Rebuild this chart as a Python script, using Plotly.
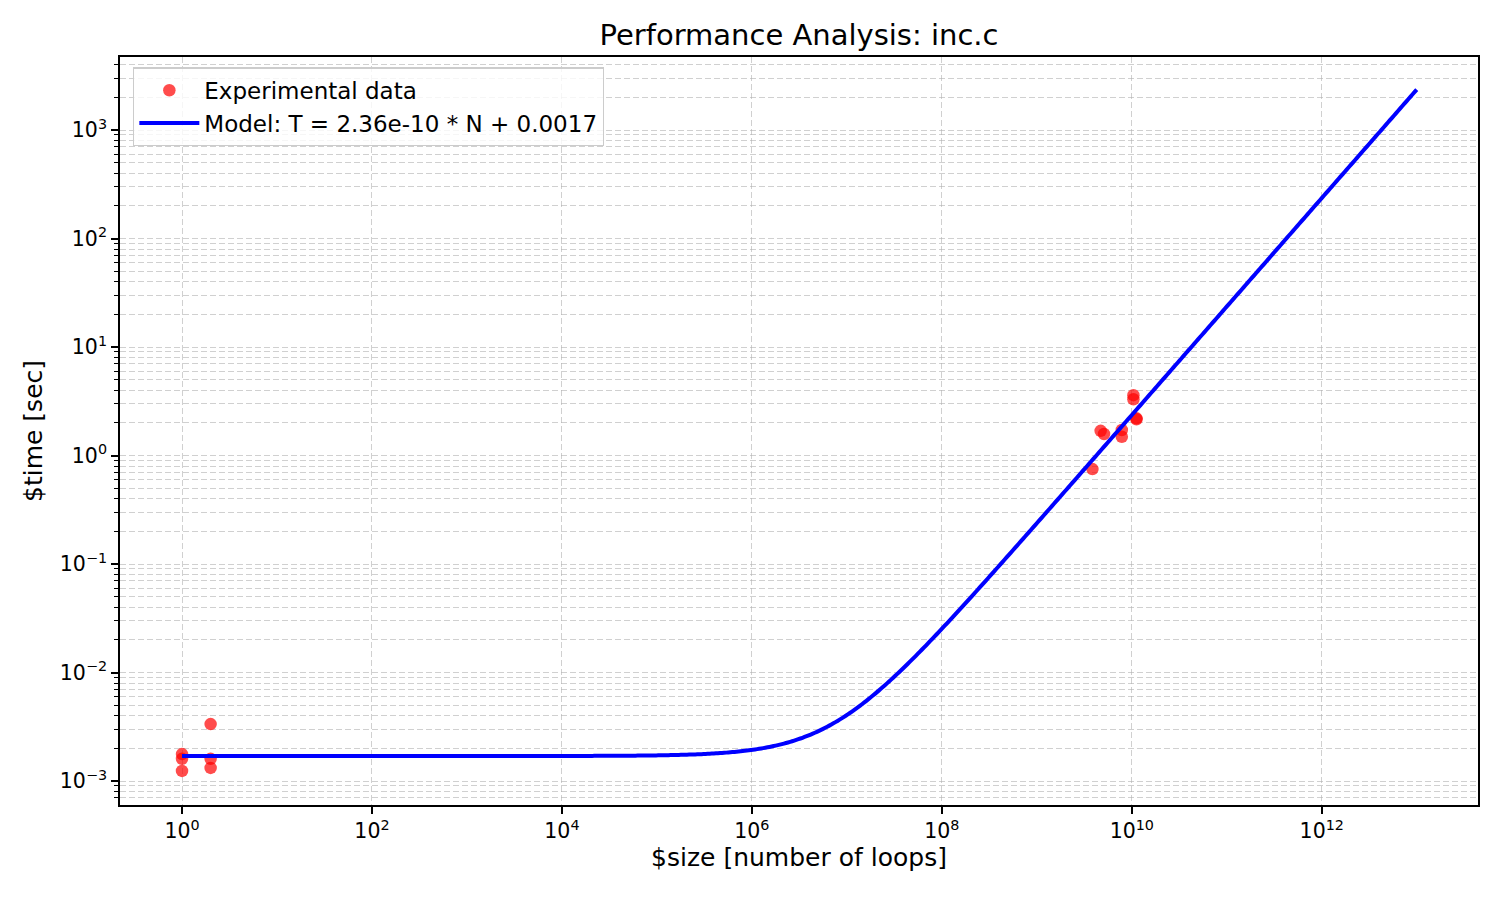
import numpy as np
import plotly.graph_objects as go

size_n = [1, 1, 1, 2, 2, 2,
          3.85e9, 4.7e9, 5.1e9, 7.85e9, 7.85e9, 1.04e10, 1.04e10, 1.12e10, 1.12e10]
time_s = [1.77e-3, 1.6e-3, 1.24e-3, 3.35e-3, 1.6e-3, 1.32e-3,
          0.75, 1.69, 1.58, 1.72, 1.49, 3.6, 3.3, 2.16, 2.2]

# Model coefficients (from legend)
slope = 2.36e-10
intercept = 0.0017
model_n_min, model_n_max = 1, 1e13

x_major = [10 ** e for e in range(0, 13, 2)]
x_labels = ["10<sup>%d</sup>" % e for e in range(0, 13, 2)]
y_exps = list(range(-3, 4))
y_major = [10 ** e for e in y_exps]
y_labels = [("10<sup>%d</sup>" % e).replace("-", "\u2212") for e in y_exps]
y_minor = [k * 10.0 ** e for e in range(-4, 4) for k in range(2, 10)]

model_n = np.logspace(np.log10(model_n_min), np.log10(model_n_max), 600)
model_t = slope * model_n + intercept

FONT = "DejaVu Sans"
GRID = "rgba(176,176,176,0.6)"

fig = go.Figure()
fig.add_trace(go.Scatter(
    x=size_n, y=time_s, mode="markers", name="Experimental data",
    marker=dict(color="red", size=12.5, opacity=0.7, line=dict(width=0)),
))
fig.add_trace(go.Scatter(
    x=model_n, y=model_t, mode="lines",
    name="Model: T = %.2e * N + %.4f" % (slope, intercept),
    line=dict(color="blue", width=4, simplify=False),
))

axis_common = dict(
    type="log", showline=True, linecolor="black", linewidth=1.7, mirror=True,
    ticks="outside", ticklen=7, tickwidth=1.7, tickcolor="black",
    showgrid=True, gridcolor=GRID, gridwidth=1.3, griddash="6px,3px",
    zeroline=False, tickfont=dict(family=FONT, size=20.5, color="black"),
)

fig.update_xaxes(
    **axis_common, range=[-0.653, 13.645], tickmode="array",
    tickvals=x_major, ticktext=x_labels,
    title=dict(text="$size [number of loops]", font=dict(family=FONT, size=25, color="black"), standoff=6),
)
fig.update_yaxes(
    **axis_common, range=[-3.221, 3.673], tickmode="array",
    tickvals=y_major, ticktext=y_labels,
    minor=dict(tickmode="array", tickvals=y_minor, ticks="outside", ticklen=4,
               tickwidth=1.2, tickcolor="black", showgrid=True, gridcolor=GRID,
               gridwidth=1.3, griddash="6px,3px"),
    title=dict(text="$time [sec]", font=dict(family=FONT, size=25, color="black"), standoff=10),
)

fig.update_layout(
    width=1500, height=900,
    margin=dict(l=120, r=22, t=57, b=95),
    paper_bgcolor="white", plot_bgcolor="white",
    title=dict(text="Performance Analysis: inc.c", xref="paper", x=0.5, xanchor="center",
               y=1 - 35 / 900, yanchor="middle",
               font=dict(family=FONT, size=29, color="black")),
    font=dict(family=FONT, color="black"),
    legend=dict(x=0.0096, y=0.986, xanchor="left", yanchor="top",
                bgcolor="rgba(255,255,255,0.8)", bordercolor="#cccccc", borderwidth=1.3,
                font=dict(family=FONT, size=23, color="black"),
                itemwidth=60, tracegroupgap=0),
    showlegend=True,
)

fig.write_html("out.html")
